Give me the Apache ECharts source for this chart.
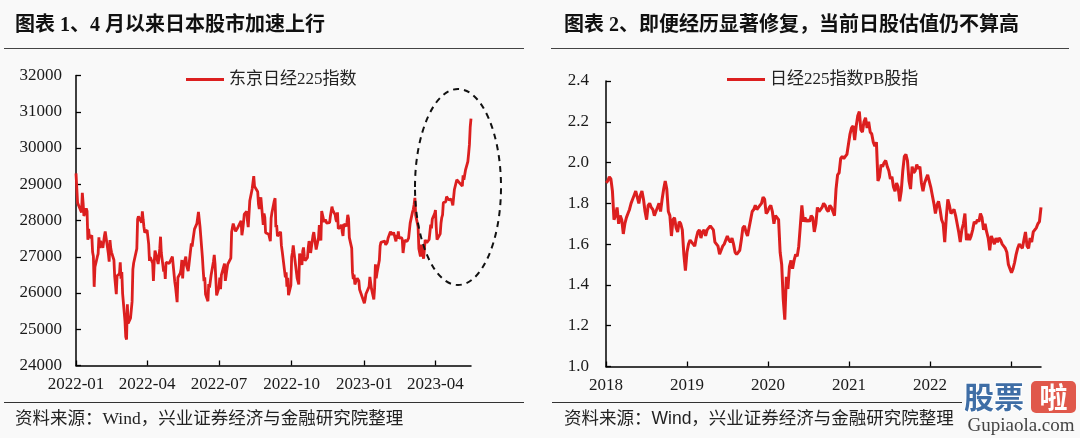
<!DOCTYPE html>
<html><head><meta charset="utf-8">
<script src="https://cdn.jsdelivr.net/npm/echarts@6/dist/echarts.min.js"></script>
<style>html,body{margin:0;padding:0;background:#f9f9f9}#c{width:1080px;height:438px}</style>
</head><body><div id="c"></div>
<script>
// ---------- texts ----------
const titleLeft = '图表 1、4 月以来日本股市加速上行';
const titleRight = '图表 2、即便经历显著修复，当前日股估值仍不算高';
const sourceText = '资料来源：Wind，兴业证券经济与金融研究院整理';
const legendLeft = '东京日经225指数';
const legendRight = '日经225指数PB股指';

// ---------- axis ticks ----------
const leftXTicks = ['2022-01-04','2022-04-04','2022-07-04','2022-10-04','2023-01-04','2023-04-04'];
const leftXRange = ['2022-01-04','2023-05-19'];
const leftYRange = [24000, 32000, 1000];
const rightXTicks = ['2018-01-04','2019-01-04','2020-01-04','2021-01-04','2022-01-04','2023-01-04'];
const rightXRange = ['2018-01-04','2023-05-19'];
const rightYRange = [1.0, 2.4, 0.2];

// ---------- Nikkei 225 daily close ----------
const nikkeiDates = [
'2022-01-04','2022-01-05','2022-01-06','2022-01-07','2022-01-11','2022-01-12','2022-01-13','2022-01-14','2022-01-17','2022-01-18','2022-01-19','2022-01-20','2022-01-21','2022-01-24','2022-01-25','2022-01-26','2022-01-27','2022-01-28','2022-01-31',
'2022-02-01','2022-02-02','2022-02-03','2022-02-04','2022-02-07','2022-02-08','2022-02-09','2022-02-10','2022-02-14','2022-02-15','2022-02-16','2022-02-17','2022-02-18','2022-02-21','2022-02-22','2022-02-24','2022-02-25','2022-02-28',
'2022-03-01','2022-03-02','2022-03-03','2022-03-04','2022-03-07','2022-03-08','2022-03-09','2022-03-10','2022-03-11','2022-03-14','2022-03-15','2022-03-16','2022-03-17','2022-03-18','2022-03-22','2022-03-23','2022-03-24','2022-03-25','2022-03-28','2022-03-29','2022-03-30','2022-03-31',
'2022-04-01','2022-04-04','2022-04-05','2022-04-06','2022-04-07','2022-04-08','2022-04-11','2022-04-12','2022-04-13','2022-04-14','2022-04-15','2022-04-18','2022-04-19','2022-04-20','2022-04-21','2022-04-22','2022-04-25','2022-04-26','2022-04-27','2022-04-28',
'2022-05-02','2022-05-06','2022-05-09','2022-05-10','2022-05-11','2022-05-12','2022-05-13','2022-05-16','2022-05-17','2022-05-18','2022-05-19','2022-05-20','2022-05-23','2022-05-24','2022-05-25','2022-05-26','2022-05-27','2022-05-30','2022-05-31',
'2022-06-01','2022-06-02','2022-06-03','2022-06-06','2022-06-07','2022-06-08','2022-06-09','2022-06-10','2022-06-13','2022-06-14','2022-06-15','2022-06-16','2022-06-17','2022-06-20','2022-06-21','2022-06-22','2022-06-23','2022-06-24','2022-06-27','2022-06-28','2022-06-29','2022-06-30',
'2022-07-01','2022-07-04','2022-07-05','2022-07-06','2022-07-07','2022-07-08','2022-07-11','2022-07-12','2022-07-13','2022-07-14','2022-07-15','2022-07-19','2022-07-20','2022-07-21','2022-07-22','2022-07-25','2022-07-26','2022-07-27','2022-07-28','2022-07-29',
'2022-08-01','2022-08-02','2022-08-03','2022-08-04','2022-08-05','2022-08-08','2022-08-09','2022-08-10','2022-08-12','2022-08-15','2022-08-16','2022-08-17','2022-08-18','2022-08-19','2022-08-22','2022-08-23','2022-08-24','2022-08-25','2022-08-26','2022-08-29','2022-08-30','2022-08-31',
'2022-09-01','2022-09-02','2022-09-05','2022-09-06','2022-09-07','2022-09-08','2022-09-09','2022-09-12','2022-09-13','2022-09-14','2022-09-15','2022-09-16','2022-09-20','2022-09-21','2022-09-22','2022-09-26','2022-09-27','2022-09-28','2022-09-29','2022-09-30',
'2022-10-03','2022-10-04','2022-10-05','2022-10-06','2022-10-07','2022-10-11','2022-10-12','2022-10-13','2022-10-14','2022-10-17','2022-10-18','2022-10-19','2022-10-20','2022-10-21','2022-10-24','2022-10-25','2022-10-26','2022-10-27','2022-10-28','2022-10-31',
'2022-11-01','2022-11-02','2022-11-04','2022-11-07','2022-11-08','2022-11-09','2022-11-10','2022-11-11','2022-11-14','2022-11-15','2022-11-16','2022-11-17','2022-11-18','2022-11-21','2022-11-22','2022-11-24','2022-11-25','2022-11-28','2022-11-29','2022-11-30',
'2022-12-01','2022-12-02','2022-12-05','2022-12-06','2022-12-07','2022-12-08','2022-12-09','2022-12-12','2022-12-13','2022-12-14','2022-12-15','2022-12-16','2022-12-19','2022-12-20','2022-12-21','2022-12-22','2022-12-23','2022-12-26','2022-12-27','2022-12-28','2022-12-29','2022-12-30',
'2023-01-04','2023-01-05','2023-01-06','2023-01-10','2023-01-11','2023-01-12','2023-01-13','2023-01-16','2023-01-17','2023-01-18','2023-01-19','2023-01-20','2023-01-23','2023-01-24','2023-01-25','2023-01-26','2023-01-27','2023-01-30','2023-01-31',
'2023-02-01','2023-02-02','2023-02-03','2023-02-06','2023-02-07','2023-02-08','2023-02-09','2023-02-10','2023-02-13','2023-02-14','2023-02-15','2023-02-16','2023-02-17','2023-02-20','2023-02-21','2023-02-22','2023-02-24','2023-02-27','2023-02-28',
'2023-03-01','2023-03-02','2023-03-03','2023-03-06','2023-03-07','2023-03-08','2023-03-09','2023-03-10','2023-03-13','2023-03-14','2023-03-15','2023-03-16','2023-03-17','2023-03-20','2023-03-22','2023-03-23','2023-03-24','2023-03-27','2023-03-28','2023-03-29','2023-03-30','2023-03-31',
'2023-04-03','2023-04-04','2023-04-05','2023-04-06','2023-04-07','2023-04-10','2023-04-11','2023-04-12','2023-04-13','2023-04-14','2023-04-17','2023-04-18','2023-04-19','2023-04-20','2023-04-21','2023-04-24','2023-04-25','2023-04-26','2023-04-27','2023-04-28',
'2023-05-01','2023-05-02','2023-05-08','2023-05-09','2023-05-10','2023-05-11','2023-05-12','2023-05-15','2023-05-16','2023-05-17','2023-05-18','2023-05-19'
];
const nikkeiClose = [
29301,29332,28487,28479,28222,28765,28489,28124,28333,28257,27467,27772,27522,27588,27131,27011,26170,26717,27001,
27078,27533,27241,27439,27248,27284,27579,27696,27079,26865,27460,27232,27122,26910,26449,25970,26476,26526,
26844,26393,26577,25985,25221,24790,24717,25690,25162,25307,25346,25762,26652,26827,27224,28040,28110,28149,27943,28252,28027,27821,
27665,27736,27787,27350,26888,26985,26821,26335,26843,27172,27093,26800,26985,27217,27553,27105,26590,26700,26386,26848,
26818,27003,26319,26167,26213,25748,26427,26547,26659,26911,26402,26739,27001,26748,26677,26604,26781,27369,27279,
27457,27413,27761,27915,27943,28234,28246,27824,26987,26629,26326,26431,25963,25771,26246,26149,26171,26491,26871,27049,26804,26393,
25935,26153,26423,26107,26490,26517,26812,26336,26478,26643,26788,26961,27680,27803,27915,27699,27655,27715,27815,27801,
27993,27594,27741,27932,28175,28249,27999,27819,28546,28871,28868,29222,28942,28930,28794,28452,28313,28479,28641,27878,28195,28091,
27661,27650,27619,27626,27430,28065,28214,28542,28614,27818,27875,27567,27688,27313,27153,26431,26571,26173,26422,25937,
26215,26992,27120,27311,27116,26401,26397,26237,27090,26775,27156,27257,27007,26890,26974,27250,27432,27345,27105,27587,
27678,27663,27199,27527,27872,27716,27446,28263,27963,27990,28028,27930,27899,27944,28115,28383,28283,28162,28027,27968,
28226,27777,27820,27885,27686,27574,27901,27842,27954,28156,28051,27527,27237,26568,26387,26507,26235,26405,26447,26340,26095,26095,
25717,25820,25974,26175,26446,26450,26120,25822,26138,26791,26405,26553,26907,27299,27395,27362,27383,27433,27327,
27346,27402,27509,27694,27685,27606,27584,27671,27427,27602,27501,27696,27513,27531,27473,27104,27453,27423,27445,
27516,27498,27927,28237,28309,28444,28623,28143,27832,27222,27229,27010,27333,26945,27466,27419,27385,27476,27518,27883,27782,28041,
28188,28287,27813,27472,27518,27633,27923,28082,28157,28493,28514,28658,28606,28657,28564,28593,28620,28416,28457,28856,
29123,29157,28949,29242,29122,29126,29388,29626,29842,30093,30573,30808
];

// ---------- Nikkei 225 PB, weekly (Fridays) per year ----------
const pbFirstFriday = {2018: 5, 2019: 4, 2020: 3, 2021: 1, 2022: 7, 2023: 6};
const pb2018 = [1.90,1.91,1.93,1.92,1.86,1.72,1.74,1.78,1.70,1.74,1.72,1.65,1.70,1.73,1.75,1.77,1.80,1.82,1.84,1.86,1.83,1.80,1.84,1.86,1.82,1.76,1.72,1.79,1.80,1.78,1.77,1.74,1.76,1.78,1.80,1.76,1.82,1.87,1.91,1.87,1.76,1.74,1.64,1.72,1.73,1.68,1.66,1.71,1.70,1.67,1.55,1.47];
const pb2019 = [1.56,1.60,1.62,1.61,1.60,1.59,1.63,1.66,1.67,1.63,1.66,1.67,1.64,1.67,1.68,1.69,1.68,1.67,1.61,1.60,1.59,1.55,1.57,1.59,1.60,1.62,1.64,1.62,1.61,1.63,1.60,1.56,1.55,1.56,1.57,1.62,1.68,1.69,1.66,1.64,1.68,1.72,1.76,1.77,1.79,1.77,1.77,1.79,1.80,1.83,1.82,1.75];
const pb2020 = [1.76,1.78,1.79,1.76,1.70,1.74,1.73,1.72,1.56,1.50,1.33,1.23,1.44,1.38,1.49,1.52,1.48,1.52,1.55,1.54,1.59,1.69,1.79,1.71,1.73,1.71,1.72,1.71,1.74,1.73,1.66,1.70,1.78,1.76,1.77,1.78,1.80,1.79,1.77,1.76,1.79,1.78,1.78,1.74,1.87,1.94,1.95,2.02,2.03,2.02,2.03,2.04];
const pb2021 = [2.09,2.14,2.17,2.18,2.11,2.18,2.23,2.25,2.16,2.15,2.20,2.22,2.17,2.20,2.15,2.14,2.10,2.08,2.10,1.91,1.93,1.99,1.98,2.00,2.01,1.98,1.96,1.92,1.93,1.88,1.86,1.90,1.88,1.81,1.86,1.96,2.03,2.04,2.01,1.91,1.87,1.98,1.95,1.96,1.99,1.97,1.98,1.90,1.86,1.90,1.92,1.94,1.94];
const pb2022 = [1.88,1.84,1.80,1.75,1.79,1.81,1.77,1.72,1.70,1.61,1.73,1.82,1.79,1.75,1.76,1.77,1.74,1.74,1.66,1.61,1.67,1.70,1.75,1.62,1.65,1.62,1.64,1.67,1.71,1.70,1.72,1.71,1.75,1.73,1.67,1.70,1.66,1.63,1.57,1.64,1.62,1.60,1.63,1.61,1.63,1.62,1.60,1.59,1.58,1.56,1.50,1.48];
const pb2023 = [1.46,1.48,1.51,1.55,1.58,1.60,1.59,1.58,1.62,1.66,1.59,1.58,1.63,1.61,1.66,1.67,1.68,1.70,1.71,1.78];
const pbByYear = {2018: pb2018, 2019: pb2019, 2020: pb2020, 2021: pb2021, 2022: pb2022, 2023: pb2023};

// ---------- helpers ----------
const toTs = s => { const p = s.split('-').map(Number); return new Date(p[0], p[1] - 1, p[2]).getTime(); };
const nikkeiData = nikkeiDates.map((d, i) => [toTs(d), nikkeiClose[i]]);
const pbData = [];
Object.keys(pbByYear).forEach(y => {
  pbByYear[y].forEach((v, i) => pbData.push([new Date(+y, 0, pbFirstFriday[y] + 7 * i).getTime(), v]));
});

const BG = '#f9f9f9';
const RED = '#dc1f1f';
const LATIN = '"Liberation Serif", "Noto Sans CJK SC", serif';
const fmtYM = v => { const d = new Date(v); return d.getFullYear() + '-' + String(d.getMonth() + 1).padStart(2, '0'); };
const fmtY = v => String(new Date(v).getFullYear());

function xAxisCfg(grid, range, ticks, fmt) {
  const tv = ticks.map(toTs);
  return {
    type: 'value', gridIndex: grid, min: toTs(range[0]), max: toTs(range[1]), scale: true,
    axisLine: {show: true, onZero: false, lineStyle: {color: '#000', width: 1.5}},
    axisTick: {show: true, inside: true, length: 5, customValues: tv, lineStyle: {color: '#000', width: 1.3}},
    axisLabel: {customValues: tv, formatter: fmt, fontSize: 17, fontFamily: LATIN, color: '#1a1a1a', margin: 11},
    splitLine: {show: false}
  };
}
function yAxisCfg(grid, r, fmt, margin) {
  return {
    type: 'value', gridIndex: grid, min: r[0], max: r[1], interval: r[2],
    axisLine: {show: true, lineStyle: {color: '#000', width: 1.5}},
    axisTick: {show: true, inside: true, length: 5, lineStyle: {color: '#000', width: 1.3}},
    axisLabel: {formatter: fmt, fontSize: 17, fontFamily: LATIN, color: '#1a1a1a', margin: margin},
    splitLine: {show: false}
  };
}

const chart = echarts.init(document.getElementById('c'), null, {renderer: 'canvas'});
const option = {
  animation: false,
  backgroundColor: BG,
  grid: [
    {left: 76, top: 75.5, width: 395, height: 290},
    {left: 606, top: 81, width: 435, height: 285.5}
  ],
  xAxis: [
    xAxisCfg(0, leftXRange, leftXTicks, fmtYM),
    xAxisCfg(1, rightXRange, rightXTicks, fmtY)
  ],
  yAxis: [
    yAxisCfg(0, leftYRange, v => String(v), 14),
    yAxisCfg(1, rightYRange, v => v.toFixed(1), 17)
  ],
  legend: [
    {data: [legendLeft], left: 181, top: 66, icon: 'rect', itemWidth: 38, itemHeight: 3, itemGap: 6,
     textStyle: {fontSize: 17, fontFamily: LATIN, color: '#222'}},
    {data: [legendRight], left: 722, top: 66, icon: 'rect', itemWidth: 38, itemHeight: 3, itemGap: 6,
     textStyle: {fontSize: 17, fontFamily: LATIN, color: '#222'}}
  ],
  series: [
    {name: legendLeft, type: 'line', xAxisIndex: 0, yAxisIndex: 0, data: nikkeiData, showSymbol: false,
     lineStyle: {color: RED, width: 2.8}, itemStyle: {color: RED}},
    {name: legendRight, type: 'line', xAxisIndex: 1, yAxisIndex: 1, data: pbData, showSymbol: false,
     lineStyle: {color: RED, width: 3}, itemStyle: {color: RED}}
  ],
  graphic: [
    {type: 'text', x: 15, y: 26, style: {text: titleLeft, font: 'bold 20px ' + LATIN, fill: '#111', verticalAlign: 'middle'}},
    {type: 'text', x: 564, y: 26, style: {text: titleRight, font: 'bold 20px ' + LATIN, fill: '#111', verticalAlign: 'middle'}},
    {type: 'line', shape: {x1: 4, y1: 48.5, x2: 524, y2: 48.5}, style: {stroke: '#444', lineWidth: 1.2}},
    {type: 'line', shape: {x1: 551, y1: 48.5, x2: 1069, y2: 48.5}, style: {stroke: '#444', lineWidth: 1.2}},
    {type: 'line', shape: {x1: 4, y1: 402.5, x2: 524, y2: 402.5}, style: {stroke: '#333', lineWidth: 1.2}},
    {type: 'line', shape: {x1: 552, y1: 402.5, x2: 1069, y2: 402.5}, style: {stroke: '#333', lineWidth: 1.2}},
    {type: 'text', x: 15, y: 419, style: {text: sourceText, font: '17.5px ' + LATIN, fill: '#222', verticalAlign: 'middle'}},
    {type: 'text', x: 564, y: 419, style: {text: sourceText, font: '17.5px "Liberation Sans", "Noto Sans CJK SC", sans-serif', fill: '#222', verticalAlign: 'middle'}},
    {type: 'ellipse', shape: {cx: 458, cy: 187, rx: 43, ry: 98}, style: {fill: 'none', stroke: '#111', lineWidth: 2, lineDash: [6, 5]}, z: 10},
    // watermark
    {type: 'rect', shape: {x: 962, y: 373, width: 118, height: 65}, style: {fill: BG}, z: 20},
    {type: 'text', x: 964, y: 397, z: 21, style: {text: '股票', font: 'bold 30px "Noto Sans CJK SC"', fill: '#3f6ea6', stroke: '#fff', lineWidth: 2, verticalAlign: 'middle'}},
    {type: 'rect', shape: {x: 1031, y: 381, width: 45, height: 32, r: 5}, style: {fill: '#e0584b'}, z: 21},
    {type: 'text', x: 1053.5, y: 397, z: 22, style: {text: '啦', font: 'bold 28px "Noto Sans CJK SC"', fill: '#fff', align: 'center', verticalAlign: 'middle'}},
    {type: 'text', x: 1021, y: 426, z: 21, style: {text: 'Gupiaola.com', font: '19px "Liberation Serif"', fill: '#444', align: 'center', verticalAlign: 'middle'}}
  ]
};
chart.setOption(option);
</script>
</body></html>
